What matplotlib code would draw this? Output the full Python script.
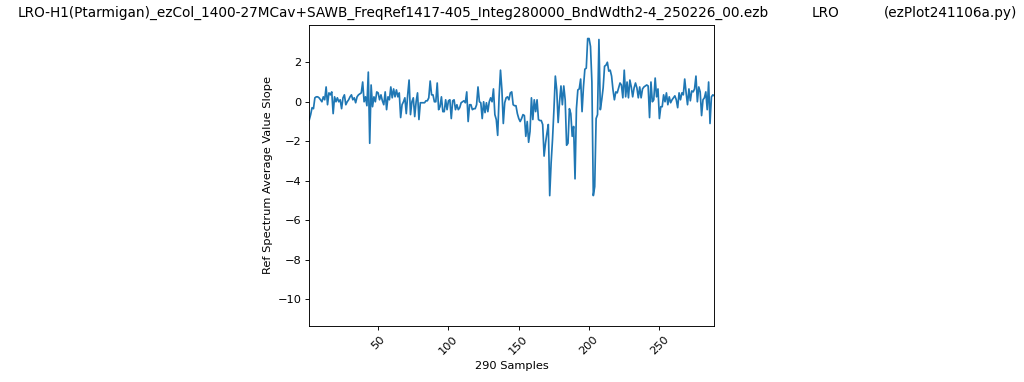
import numpy as np
import matplotlib
matplotlib.use('Agg')
import matplotlib.pyplot as plt

# Valores (pendiente del espectro de referencia, 290 muestras)
slope = [
    -0.92, -0.65, -0.30, -0.35, 0.20, 0.25, 0.25, 0.20, 0.10, 0.00,
    0.25, 0.10, 0.75, -0.15, 0.45, 0.35, 0.50, -0.60, 0.25, 0.00,
    0.20, 0.00, 0.10, -0.35, 0.20, 0.35, -0.15, 0.00, 0.10, 0.25,
    0.35, 0.10, 0.20, -0.05, 0.25, 0.35, 0.40, 0.45, 1.00, 0.00,
    0.25, -0.20, 1.50, -2.10, 0.85, -0.25, 0.25, 0.00, 0.50, 0.45,
    0.10, 0.35, 0.05, -0.15, 0.50, -0.40, 0.25, 0.10, 0.75, 0.20,
    0.65, 0.25, 0.60, 0.25, 0.45, -0.80, -0.15, 0.00, 0.20, -0.60,
    0.35, 1.10, -0.65, 0.00, 0.20, -0.75, 0.00, 0.45, -0.90, -0.05,
    -0.05, -0.05, -0.05, 0.05, 0.05, 0.20, 1.05, 0.35, 0.35, 0.00,
    0.00, 0.95, -0.40, -0.25, 0.25, -0.50, -0.50, 0.10, -0.40, 0.05,
    0.10, -0.85, 0.05, 0.10, -0.40, -0.15, -0.40, -0.30, -0.05, 0.00,
    0.05, -0.05, 0.50, -1.00, -0.15, -0.15, -0.40, -0.35, -0.35, -0.15,
    0.75, 0.00, -0.05, -0.85, 0.00, -0.55, -0.05, -0.50, 0.00, 0.20,
    0.00, 0.65, -0.65, -0.90, -1.70, 0.25, 1.60, 0.60, -1.10, -0.05,
    0.20, 0.25, 0.10, 0.45, 0.50, -0.15, -0.20, -0.20, -0.60, -0.85,
    -1.00, -0.85, -0.65, -0.70, -1.75, -1.00, -2.05, -1.50, 0.20, -0.90,
    0.10, -0.50, 0.10, -0.90, -0.95, -0.95, -1.15, -2.75, -2.10, -1.60,
    -1.15, -4.75, -3.10, -1.90, -0.40, 1.30, 0.60, -1.05, 0.00, 0.80,
    -0.15, 0.80, 0.10, -2.20, -2.10, -0.35, -0.60, -1.75, -1.25, -3.90,
    -0.35, 0.60, 0.65, 1.15, -0.50, 0.75, 1.65, 1.70, 3.20, 3.20,
    2.80, 1.00, -4.75, -4.30, -0.85, -0.65, 3.15, -0.40, 0.10, 0.70,
    1.80, 1.85, 2.00, 1.55, 1.60, 1.30, 0.60, 0.10, 0.50, 0.45,
    0.70, 0.95, 0.85, 0.20, 1.60, 0.25, 1.00, 0.20, 1.10, 0.75,
    0.25, 0.70, 0.95, 0.70, 0.20, 0.75, 0.20, 0.65, 0.75, 0.80,
    0.85, 0.80, -0.80, 1.00, 0.00, 0.10, 1.20, 0.25, 0.65, -0.85,
    -0.25, -0.25, 0.35, 0.00, 0.45, -0.15, 0.25, -0.05, 0.10, 0.20,
    0.30, 0.10, -0.30, 0.45, 0.10, 0.45, 0.35, 1.15, 0.45, -0.15,
    0.65, 0.05, 0.55, 0.50, 0.65, 1.30, 0.00, 0.75, 0.50, -0.70,
    0.10, 0.20, 0.50, -0.40, 1.00, -1.10, 0.25, 0.35, 0.30, 0.30,
]
muestras = np.arange(1, len(slope) + 1)

titulo = 'LRO-H1(Ptarmigan)_ezCol_1400-27MCav+SAWB_FreqRef1417-405_Integ280000_BndWdth2-4_250226_00.ezb'

# la figura original parece guardada a menor escala: todo a ~0.82
esc = 0.82
plt.rcParams['font.size'] = 10 * esc
plt.rcParams['lines.linewidth'] = 1.5 * esc
plt.rcParams['axes.linewidth'] = 0.8 * esc
for eje in ('xtick', 'ytick'):
    plt.rcParams[f'{eje}.major.size'] = 3.5 * esc
    plt.rcParams[f'{eje}.major.width'] = 0.8 * esc
    plt.rcParams[f'{eje}.major.pad'] = 3.5 * esc
plt.rcParams['axes.labelpad'] = 4.0 * esc

fig = plt.figure(figsize=(10.24, 3.82), dpi=100)
ax = fig.add_axes([0.302, 0.1466, 0.3955, 0.7887])
ax.plot(muestras, slope)
ax.set_xlim(1, 289)
ax.set_ylim(-11.35, 3.9)
ax.set_xticks([50, 100, 150, 200, 250])
ax.tick_params(axis='x', labelrotation=45)
ax.set_xlabel(f'{len(slope)} Samples')
ax.set_ylabel('Ref Spectrum Average Value Slope')

fs = 12 * esc
fig.text(18 / 1024, 0.966, titulo, fontsize=fs, ha='left', va='center')
fig.text(812 / 1024, 0.966, 'LRO', fontsize=fs, ha='left', va='center')
fig.text(884 / 1024, 0.966, '(ezPlot241106a.py)', fontsize=fs, ha='left', va='center')

plt.savefig('out.png', dpi=100)
plt.close()
